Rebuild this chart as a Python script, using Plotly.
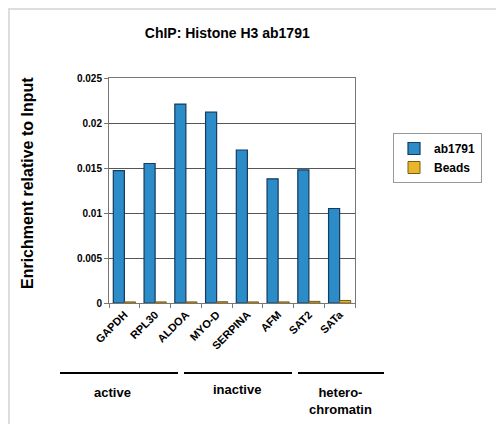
import plotly.graph_objects as go

categories = ["GAPDH", "RPL30", "ALDOA", "MYO-D", "SERPINA", "AFM", "SAT2", "SATa"]
ab1791 = [0.0147, 0.0155, 0.0221, 0.0212, 0.0170, 0.0138, 0.0148, 0.0105]
beads = [0.00012, 0.00012, 0.00012, 0.00014, 0.00012, 0.00012, 0.00018, 0.00028]
groups = ["active", "inactive", "hetero-<br>chromatin"]

FONT = "Liberation Sans, Arial, sans-serif"

# screen -> paper helpers (page has an 8px body margin)
def px(sx):
    return (sx - 109) / 246

def py(sy):
    return (303 - sy) / 225

fig = go.Figure()
fig.add_trace(go.Bar(x=categories, y=ab1791, name="<b>ab1791</b>",
                     marker=dict(color="#2b8cc8", line=dict(color="#173a5e", width=1.2))))
fig.add_trace(go.Bar(x=categories, y=beads, name="<b>Beads</b>",
                     marker=dict(color="#e8b62a", line=dict(color="#7a5c10", width=1))))

fig.update_layout(
    width=504, height=424,
    margin=dict(l=101, r=157, t=70, b=129),
    paper_bgcolor="white", plot_bgcolor="white",
    barmode="group", bargap=0.28, bargroupgap=0.0,
    font=dict(family=FONT, size=10, color="black"),
    title=dict(text="<b>ChIP: Histone H3 ab1791</b>", x=0.435, xanchor="center",
               y=0.941, yanchor="middle", font=dict(size=14, family=FONT)),
    legend=dict(x=px(393), y=py(133), xanchor="left", yanchor="top",
                bordercolor="#999999", borderwidth=1, bgcolor="white",
                font=dict(size=12, family=FONT), itemwidth=30, tracegroupgap=2),
    showlegend=True,
)
fig.update_yaxes(range=[0, 0.025], dtick=0.005, showgrid=True, gridcolor="#555555",
                 gridwidth=1, showline=True, linecolor="#777777", ticks="outside",
                 ticklen=4, tickcolor="#777777", mirror=True,
                 tickfont=dict(size=10, family=FONT),
                 tickprefix="<b>", ticksuffix="</b>")
fig.update_xaxes(showline=True, linecolor="#777777", mirror=True, ticks="outside",
                 tickson="boundaries", ticklen=4, tickcolor="#777777",
                 tickangle=-45, tickfont=dict(size=11, family=FONT),
                 tickprefix="<b>", ticksuffix="</b>")

fig.add_annotation(text="<b>Enrichment relative to Input</b>", xref="paper", yref="paper",
                   x=px(27), y=py(183), textangle=-90, showarrow=False,
                   xanchor="center", yanchor="middle", font=dict(size=16, family=FONT))

# group lines and labels under the axis
spans = [(60, 178), (184, 292), (298, 384)]
centers = [112, 237, 340]
label_tops = [383, 380, 383]
for (x0, x1), c, t, g in zip(spans, centers, label_tops, groups):
    fig.add_shape(type="line", xref="paper", yref="paper",
                  x0=px(x0), x1=px(x1), y0=py(373), y1=py(373),
                  line=dict(color="black", width=2))
    fig.add_annotation(text="<b>" + g + "</b>", xref="paper", yref="paper",
                       x=px(c), y=py(t), xanchor="center", yanchor="top",
                       showarrow=False, font=dict(size=13, family=FONT))

# outer frame
fig.add_shape(type="rect", xref="paper", yref="paper",
              x0=px(9), x1=px(540), y0=py(460), y1=py(9),
              line=dict(color="#dddddd", width=2))

fig.write_html("out.html")
